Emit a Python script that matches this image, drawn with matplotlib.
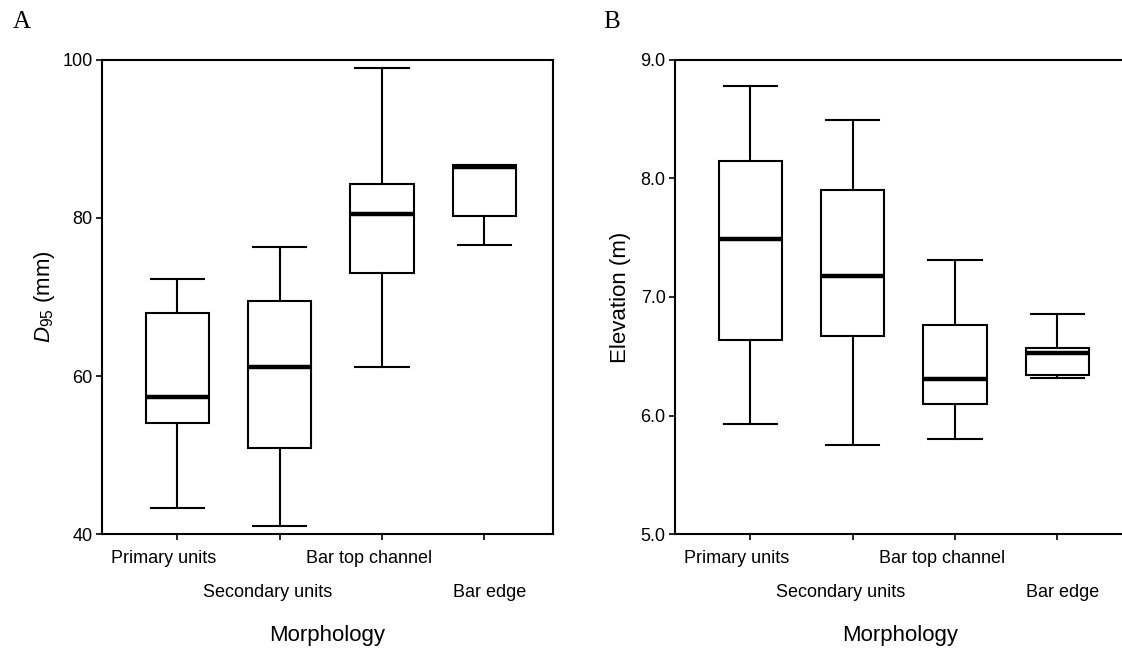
import matplotlib
matplotlib.use("Agg")
import matplotlib.pyplot as plt
from matplotlib.transforms import ScaledTranslation

plt.rcParams['font.family'] = ['Liberation Sans', 'DejaVu Sans']
plt.rcParams['mathtext.fontset'] = 'custom'
plt.rcParams['mathtext.rm'] = 'Liberation Sans'
plt.rcParams['mathtext.it'] = 'Liberation Sans:italic'

categories = ['Primary units', 'Secondary units', 'Bar top channel', 'Bar edge']

# panel A: D95 (mm)
d95_low = [43.3, 41.0, 61.1, 76.6]
d95_q1 = [54.0, 50.9, 73.1, 80.2]
d95_med = [57.4, 61.2, 80.5, 86.4]
d95_q3 = [68.0, 69.5, 84.3, 86.7]
d95_high = [72.3, 76.3, 99.0, 86.7]

# panel B: elevation (m)
elev_low = [5.93, 5.75, 5.80, 6.32]
elev_q1 = [6.64, 6.67, 6.10, 6.34]
elev_med = [7.49, 7.18, 6.31, 6.53]
elev_q3 = [8.15, 7.90, 6.76, 6.57]
elev_high = [8.78, 8.49, 7.31, 6.86]

# labels in the original are not centred on their ticks (px shift)
label_shift = [-14, -12, -13, 5]


def make_stats(low, q1, med, q3, high):
    return [dict(whislo=a, q1=b, med=c, q3=d, whishi=e, fliers=[])
            for a, b, c, d, e in zip(low, q1, med, q3, high)]


def draw_panel(fig, ax, stats, yticks, yfmt, ylabel, labelpad):
    ax.bxp(stats, positions=range(1, 5), widths=0.62, capwidths=0.52,
           patch_artist=True, showfliers=False,
           boxprops=dict(facecolor='white', edgecolor='black', linewidth=1.5),
           medianprops=dict(color='black', linewidth=3.2),
           whiskerprops=dict(color='black', linewidth=1.5),
           capprops=dict(color='black', linewidth=1.5))
    ax.set_xlim(0.265, 4.67)
    ax.set_ylim(yticks[0], yticks[-1])
    ax.set_yticks(yticks)
    ax.set_yticklabels([yfmt.format(t) for t in yticks])
    ax.set_xticks(range(1, 5))
    ax.set_xticklabels(categories)
    for i, tick in enumerate(ax.xaxis.get_major_ticks()):
        tick.set_pad(7.5 if i % 2 == 0 else 32)
    ax.tick_params(direction='out', length=4.3, width=1.2, labelsize=13,
                   top=False, right=False)
    ax.tick_params(axis='y', pad=2.5)
    for lbl, dx in zip(ax.get_xticklabels(), label_shift):
        lbl.set_transform(lbl.get_transform() +
                          ScaledTranslation(dx / 100, 0, fig.dpi_scale_trans))
    for s in ax.spines.values():
        s.set_linewidth(1.5)
    ax.set_ylabel(ylabel, fontsize=16, labelpad=labelpad)
    ax.set_xlabel('Morphology', fontsize=16)
    ax.xaxis.set_label_coords(0.5, -0.192)


fig = plt.figure(figsize=(11.22, 6.57), dpi=100)
ax_a = fig.add_axes([0.0909, 0.1872, 0.402, 0.7215])
ax_b = fig.add_axes([0.6016, 0.1872, 0.402, 0.7215])

draw_panel(fig, ax_a, make_stats(d95_low, d95_q1, d95_med, d95_q3, d95_high),
           [40, 60, 80, 100], '{:d}', r'$\mathit{D}_{\mathit{95}}$ (mm)', 3.5)
draw_panel(fig, ax_b, make_stats(elev_low, elev_q1, elev_med, elev_q3, elev_high),
           [5.0, 6.0, 7.0, 8.0, 9.0], '{:.1f}', 'Elevation (m)', 7)

fig.text(0.0195, 0.967, 'A', family='Liberation Serif', fontsize=18, va='center', ha='center')
fig.text(0.5455, 0.967, 'B', family='Liberation Serif', fontsize=18, va='center', ha='center')

fig.savefig('out.png', dpi=100)
